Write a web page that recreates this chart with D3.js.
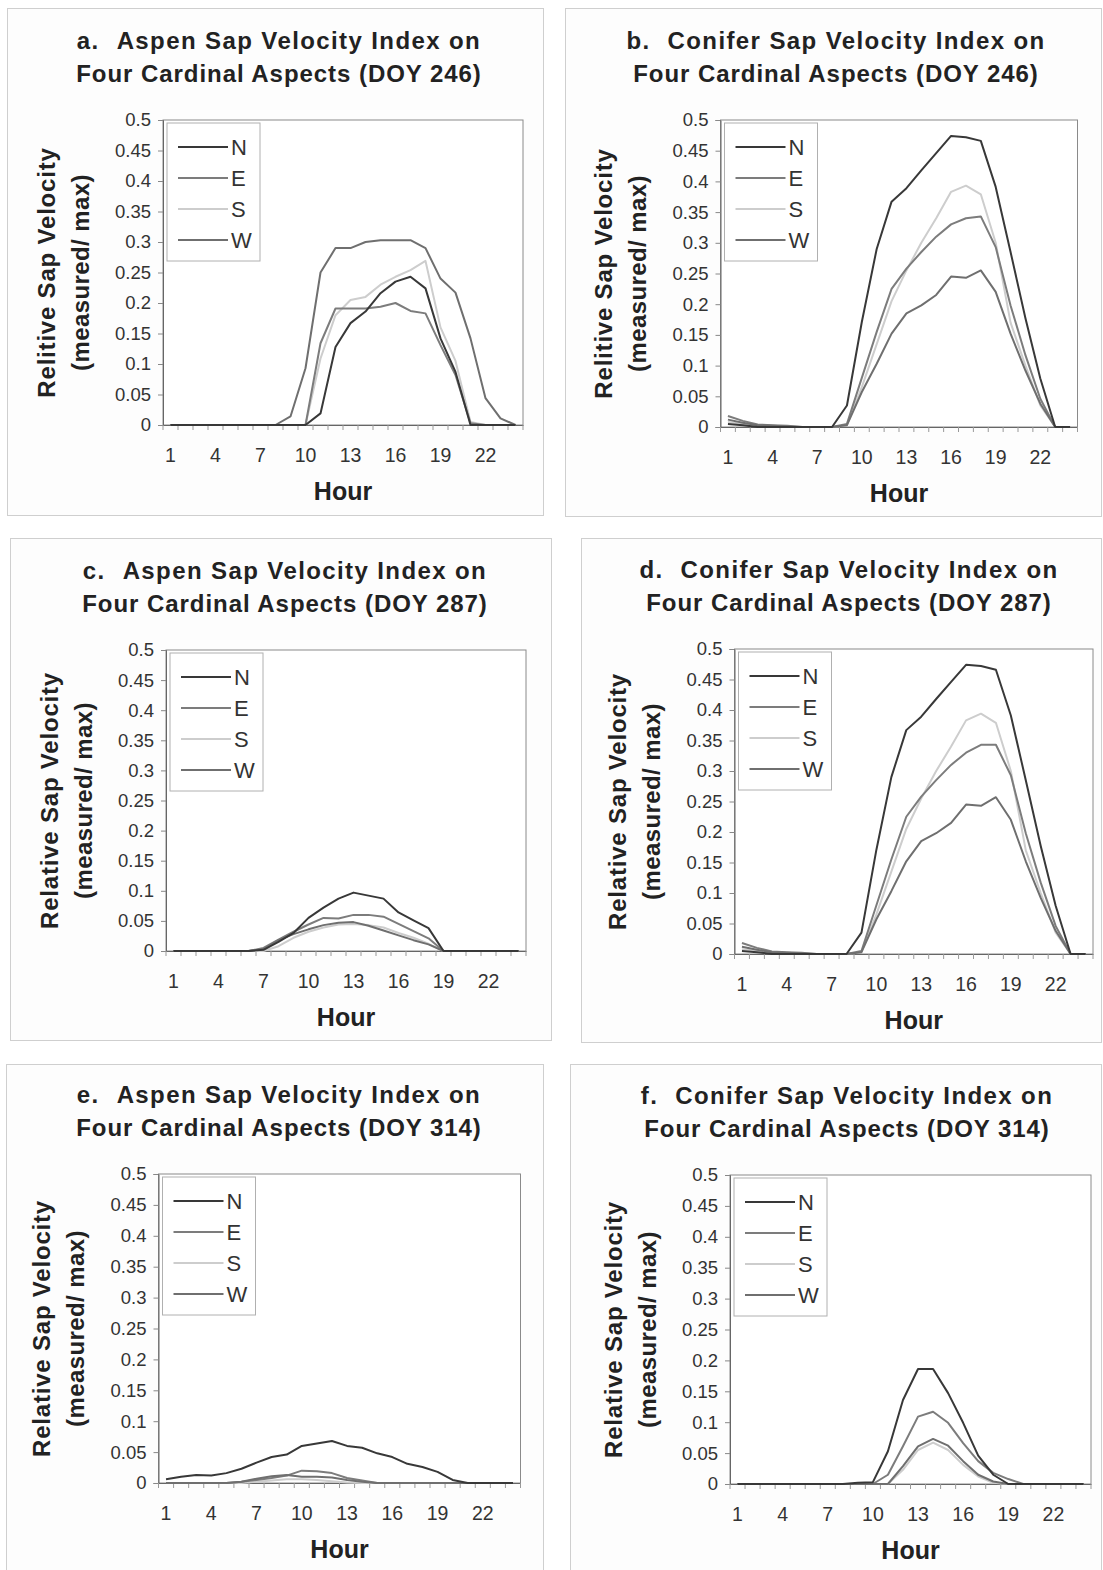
<!DOCTYPE html>
<html>
<head>
<meta charset="utf-8">
<script src="https://cdn.jsdelivr.net/npm/d3@7"></script>
<style>
  body { margin: 0; background: #ffffff; }
  svg { display: block; font-family: "Liberation Sans", Arial, sans-serif; }
  text { white-space: pre; }
</style>
</head>
<body>
<svg id="fig" width="1103" height="1570"></svg>
<script>
// ---- categories and tick labels ----
const hours = d3.range(1, 25);
const hourLabels = [1, 4, 7, 10, 13, 16, 19, 22];
const yTicks = [0, 0.05, 0.1, 0.15, 0.2, 0.25, 0.3, 0.35, 0.4, 0.45, 0.5];
const yTickLabels = ["0", "0.05", "0.1", "0.15", "0.2", "0.25", "0.3", "0.35", "0.4", "0.45", "0.5"];
const aspects = ["N", "E", "S", "W"];

// ---- relative sap velocity (measured / max), hours 1..24 ----
// Aspen, DOY 246
const aspen246N = [0,0,0,0,0,0,0,0,0,0,0.019,0.128,0.167,0.186,0.216,0.235,0.243,0.224,0.142,0.087,0,0,0,0];
const aspen246E = [0,0,0,0,0,0,0,0,0,0,0.134,0.191,0.191,0.191,0.194,0.2,0.187,0.183,0.131,0.082,0.003,0,0,0];
const aspen246S = [0,0,0,0,0,0,0,0,0,0,0.109,0.18,0.205,0.21,0.23,0.243,0.254,0.269,0.16,0.105,0.005,0,0,0];
const aspen246W = [0,0,0,0,0,0,0,0,0.014,0.093,0.25,0.29,0.29,0.3,0.303,0.303,0.303,0.29,0.24,0.217,0.142,0.044,0.011,0];

// Conifer, DOY 246
const conifer246N = [0.005,0.003,0,0,0,0,0,0,0.035,0.171,0.29,0.367,0.389,0.418,0.446,0.474,0.472,0.466,0.391,0.285,0.177,0.079,0,0];
const conifer246E = [0.018,0.01,0.004,0.003,0.002,0,0,0,0.005,0.08,0.155,0.225,0.258,0.285,0.31,0.33,0.34,0.343,0.293,0.198,0.117,0.046,0,0];
const conifer246S = [0.008,0.005,0.002,0.001,0,0,0,0,0.003,0.065,0.135,0.205,0.255,0.3,0.34,0.383,0.393,0.379,0.3,0.17,0.1,0.035,0,0];
const conifer246W = [0.012,0.007,0.003,0.002,0.001,0,0,0,0.003,0.057,0.103,0.152,0.185,0.198,0.215,0.245,0.243,0.255,0.22,0.152,0.092,0.038,0,0];

// Aspen, DOY 287
const aspen287N = [0,0,0,0,0,0,0.002,0.015,0.03,0.055,0.072,0.087,0.097,0.092,0.087,0.064,0.051,0.038,0,0,0,0,0,0];
const aspen287E = [0,0,0,0,0,0,0.005,0.019,0.032,0.044,0.055,0.054,0.06,0.06,0.057,0.045,0.033,0.021,0,0,0,0,0,0];
const aspen287S = [0,0,0,0,0,0,0,0.008,0.022,0.032,0.039,0.044,0.045,0.043,0.039,0.03,0.022,0.012,0,0,0,0,0,0];
const aspen287W = [0,0,0,0,0,0,0.003,0.018,0.028,0.036,0.043,0.047,0.048,0.042,0.034,0.026,0.018,0.011,0,0,0,0,0,0];

// Conifer, DOY 287
const conifer287N = [0.005,0.003,0,0,0,0,0,0,0.035,0.171,0.29,0.367,0.389,0.418,0.446,0.474,0.472,0.466,0.391,0.285,0.177,0.079,0,0];
const conifer287E = [0.018,0.01,0.004,0.003,0.002,0,0,0,0.005,0.08,0.155,0.225,0.258,0.285,0.31,0.33,0.343,0.343,0.293,0.198,0.117,0.046,0,0];
const conifer287S = [0.008,0.005,0.002,0.001,0,0,0,0,0.003,0.065,0.135,0.205,0.255,0.3,0.34,0.383,0.394,0.379,0.3,0.17,0.1,0.035,0,0];
const conifer287W = [0.012,0.007,0.003,0.002,0.001,0,0,0,0.003,0.057,0.103,0.152,0.185,0.198,0.215,0.245,0.243,0.257,0.22,0.152,0.092,0.038,0,0];

// Aspen, DOY 314
const aspen314N = [0.006,0.01,0.013,0.012,0.016,0.023,0.033,0.042,0.046,0.06,0.064,0.068,0.06,0.057,0.048,0.042,0.031,0.026,0.018,0.005,0,0,0,0];
const aspen314E = [0,0,0,0,0,0.002,0.005,0.008,0.012,0.02,0.019,0.016,0.008,0.004,0,0,0,0,0,0,0,0,0,0];
const aspen314S = [0,0,0,0,0,0,0.002,0.004,0.006,0.006,0.005,0.003,0.001,0,0,0,0,0,0,0,0,0,0,0];
const aspen314W = [0,0,0,0,0,0.002,0.007,0.011,0.013,0.01,0.01,0.009,0.005,0.002,0,0,0,0,0,0,0,0,0,0];

// Conifer, DOY 314
const conifer314N = [0,0,0,0,0,0,0,0,0.002,0.003,0.053,0.136,0.186,0.186,0.147,0.099,0.046,0.015,0,0,0,0,0,0];
const conifer314E = [0,0,0,0,0,0,0,0,0,0,0.015,0.061,0.109,0.117,0.099,0.066,0.037,0.018,0.008,0,0,0,0,0];
const conifer314S = [0,0,0,0,0,0,0,0,0,0,0,0.023,0.055,0.067,0.055,0.031,0.012,0.002,0,0,0,0,0,0];
const conifer314W = [0,0,0,0,0,0,0,0,0,0,0,0.029,0.061,0.073,0.062,0.037,0.015,0.004,0,0,0,0,0,0];

// ---- line colours per aspect ----
const aspectColor = { N: "#383838", E: "#7c7c7c", S: "#cdcdcd", W: "#6f6f6f" };

// ---- panel layout ----
const panels = [
  { tag: "a.", t1: "Aspen Sap Velocity Index on", t2: "Four Cardinal Aspects (DOY 246)", yt: "Relitive Sap Velocity",
    data: { N: aspen246N, E: aspen246E, S: aspen246S, W: aspen246W },
    frame: [7, 8, 536, 507], plot: [163, 120, 360, 305], tx: 279 },
  { tag: "b.", t1: "Conifer Sap Velocity Index on", t2: "Four Cardinal Aspects (DOY 246)", yt: "Relitive Sap Velocity",
    data: { N: conifer246N, E: conifer246E, S: conifer246S, W: conifer246W },
    frame: [565, 8, 536, 508], plot: [720.5, 120, 357, 307], tx: 836 },
  { tag: "c.", t1: "Aspen Sap Velocity Index on", t2: "Four Cardinal Aspects (DOY 287)", yt: "Relative Sap Velocity",
    data: { N: aspen287N, E: aspen287E, S: aspen287S, W: aspen287W },
    frame: [10, 538, 541, 502], plot: [166, 650, 360, 301], tx: 285 },
  { tag: "d.", t1: "Conifer Sap Velocity Index on", t2: "Four Cardinal Aspects (DOY 287)", yt: "Relative Sap Velocity",
    data: { N: conifer287N, E: conifer287E, S: conifer287S, W: conifer287W },
    frame: [581, 538, 520, 504], plot: [734.5, 649, 358.5, 305], tx: 849 },
  { tag: "e.", t1: "Aspen Sap Velocity Index on", t2: "Four Cardinal Aspects (DOY 314)", yt: "Relative Sap Velocity",
    data: { N: aspen314N, E: aspen314E, S: aspen314S, W: aspen314W },
    frame: [6, 1064, 537, 520], plot: [158.5, 1174, 362, 309], tx: 279 },
  { tag: "f.", t1: "Conifer Sap Velocity Index on", t2: "Four Cardinal Aspects (DOY 314)", yt: "Relative Sap Velocity",
    data: { N: conifer314N, E: conifer314E, S: conifer314S, W: conifer314W },
    frame: [570, 1064, 531, 520], plot: [730, 1175, 361, 309], tx: 847 }
];

const svg = d3.select("#fig");

panels.forEach(p => {
  const g = svg.append("g");
  const [fx, fy, fw, fh] = p.frame;
  const [px, py, pw, ph] = p.plot;

  // chart area border
  g.append("rect").attr("x", fx + 0.5).attr("y", fy + 0.5).attr("width", fw).attr("height", fh)
    .attr("fill", "#fdfdfd").attr("stroke", "#cfcfcf").attr("stroke-width", 1);

  // titles (panel letter set apart from the heading by a wider gap)
  const title = g.append("g").attr("fill", "#222").attr("font-weight", "bold")
    .attr("font-size", 24).attr("text-anchor", "middle");
  const l1 = title.append("text").attr("x", p.tx).attr("y", py - 80).attr("letter-spacing", 1.4)
    .attr("dominant-baseline", "central");
  l1.append("tspan").text(p.tag);
  l1.append("tspan").attr("dx", 17).text(p.t1);
  title.append("text").attr("x", p.tx).attr("y", py - 47).attr("letter-spacing", 0.95)
    .attr("dominant-baseline", "central").text(p.t2);

  const x = d3.scaleBand().domain(hours).range([px, px + pw]).padding(0);
  const y = d3.scaleLinear().domain([0, 0.5]).range([py + ph, py]);
  const xc = h => x(h) + x.bandwidth() / 2;

  // plot area
  g.append("rect").attr("x", px).attr("y", py).attr("width", pw).attr("height", ph)
    .attr("fill", "#ffffff").attr("stroke", "#8a8a8a").attr("stroke-width", 1);

  // y axis
  const yAxis = g.append("g").attr("transform", `translate(${px},0)`)
    .call(d3.axisLeft(y).tickValues(yTicks).tickFormat((d, i) => yTickLabels[i]).tickSize(5).tickPadding(7));
  yAxis.select(".domain").attr("stroke", "#666");
  yAxis.selectAll(".tick line").attr("stroke", "#888");
  yAxis.selectAll("text").attr("font-size", 18.5).attr("fill", "#333").attr("font-family", null);

  // x axis: labels at category centres, ticks at category boundaries
  const xAxis = g.append("g").attr("transform", `translate(0,${py + ph})`)
    .call(d3.axisBottom(x).tickValues(hourLabels).tickSize(0).tickPadding(23));
  xAxis.select(".domain").attr("stroke", "#666");
  xAxis.selectAll("text").attr("font-size", 19.5).attr("fill", "#333").attr("font-family", null);
  g.append("g").selectAll("line").data(hours.concat([null])).join("line")
    .attr("x1", d => d === null ? px + pw : x(d)).attr("x2", d => d === null ? px + pw : x(d))
    .attr("y1", py + ph).attr("y2", py + ph + 5).attr("stroke", "#999").attr("stroke-width", 1);

  // axis titles
  g.append("text").attr("x", px + pw / 2).attr("y", py + ph + 66).attr("text-anchor", "middle")
    .attr("dominant-baseline", "central").attr("font-size", 25).attr("font-weight", "bold").attr("fill", "#222")
    .text("Hour");
  const cy = py + ph / 2;
  g.append("text").attr("transform", `translate(${px - 117},${cy}) rotate(-90)`).attr("text-anchor", "middle")
    .attr("dominant-baseline", "central").attr("font-size", 24).attr("font-weight", "bold")
    .attr("letter-spacing", 0.8).attr("fill", "#222").text(p.yt);
  g.append("text").attr("transform", `translate(${px - 83},${cy}) rotate(-90)`).attr("text-anchor", "middle")
    .attr("dominant-baseline", "central").attr("font-size", 24).attr("font-weight", "bold")
    .attr("letter-spacing", 0.4).attr("fill", "#222").text("(measured/ max)");

  // series
  const line = d3.line().x((d, i) => xc(hours[i])).y(d => y(d));
  ["S", "E", "W", "N"].forEach(k => {
    g.append("path").datum(p.data[k]).attr("d", line).attr("fill", "none")
      .attr("stroke", aspectColor[k]).attr("stroke-width", 2).attr("stroke-linejoin", "round");
  });

  // legend
  const lg = g.append("g").attr("transform", `translate(${px + 4},${py + 3})`);
  lg.append("rect").attr("width", 93).attr("height", 138).attr("fill", "#fff").attr("stroke", "#b0b0b0");
  aspects.forEach((k, i) => {
    const ly = 24 + i * 31;
    lg.append("line").attr("x1", 11).attr("x2", 61).attr("y1", ly).attr("y2", ly)
      .attr("stroke", aspectColor[k]).attr("stroke-width", 2);
    lg.append("text").attr("x", 64).attr("y", ly).attr("dominant-baseline", "central")
      .attr("font-size", 22).attr("fill", "#333").text(k);
  });
});
</script>
</body>
</html>
